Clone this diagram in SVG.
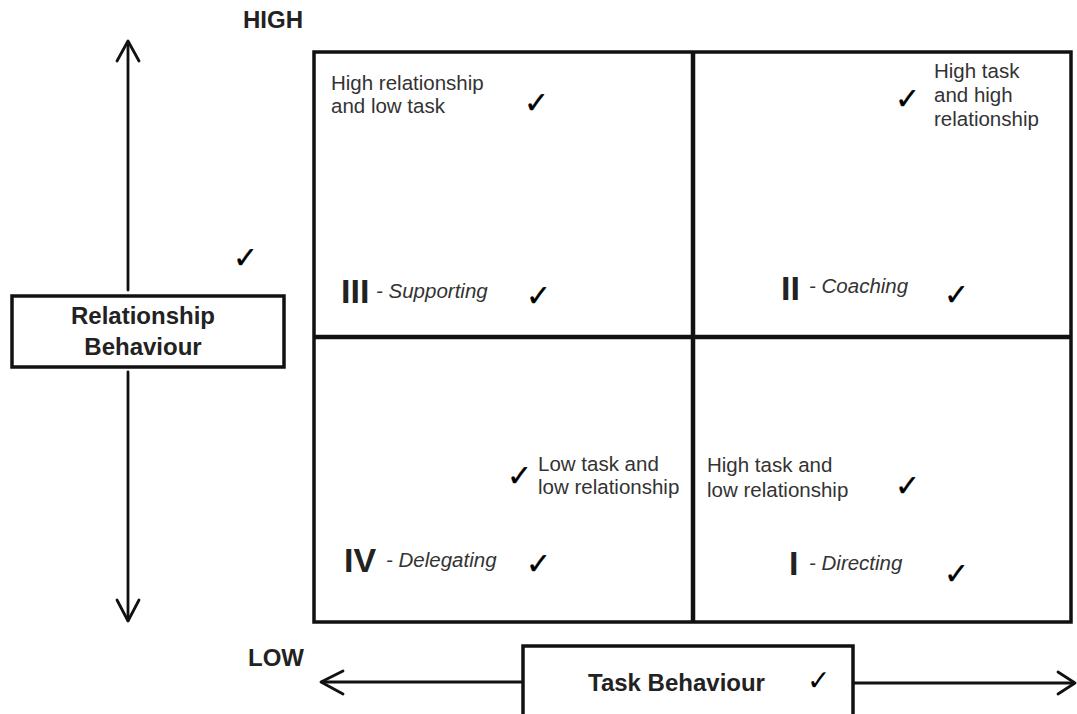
<svg xmlns="http://www.w3.org/2000/svg" width="1077" height="714" viewBox="0 0 1077 714">
<style>
.bg{fill:#ffffff}
.frame{fill:none;stroke:#111;stroke-width:3.5}
.div{fill:none;stroke:#111;stroke-width:4.5}
.box{fill:#fff;stroke:#111;stroke-width:3.5}
.axis{fill:none;stroke:#111;stroke-width:2.8;stroke-linecap:round;stroke-linejoin:round}
.lbl{font-family:"Liberation Sans",Arial,sans-serif;font-weight:bold;font-size:24px;fill:#222}
.t{font-family:"Liberation Sans",Arial,sans-serif;font-size:20.5px;fill:#333}
.num{font-family:"Liberation Sans",Arial,sans-serif;font-weight:bold;font-size:34px;fill:#222}
.sty{font-family:"Liberation Sans",Arial,sans-serif;font-style:italic;font-size:20.5px;fill:#333}
.ck{font-family:"DejaVu Sans",sans-serif;font-size:30px;fill:#000;stroke:#000;stroke-width:0.35}
.ck2{font-family:"DejaVu Sans",sans-serif;font-size:28px;fill:#000}
</style>
<rect class="bg" x="0" y="0" width="1077" height="714"/>

<g id="connectors">
  <line class="axis" x1="128" y1="42" x2="128" y2="290"/>
  <polyline class="axis" points="117,61 128,41 139,61"/>
  <line class="axis" x1="128" y1="372" x2="128" y2="620"/>
  <polyline class="axis" points="117,600 128,621 139,600"/>
  <line class="axis" x1="322" y1="682" x2="523" y2="682"/>
  <polyline class="axis" points="343,671 321,682 343,694"/>
  <line class="axis" x1="854" y1="683" x2="1074" y2="683"/>
  <polyline class="axis" points="1058,672 1075,683 1058,694"/>
</g>

<g id="grid">
  <rect class="frame" x="314" y="52" width="757" height="570"/>
  <line class="div" x1="693" y1="52" x2="693" y2="622"/>
  <line class="div" x1="314" y1="337" x2="1071" y2="337"/>
</g>

<g id="high-label"><text class="lbl" x="243" y="28">HIGH</text></g>
<g id="low-label"><text class="lbl" x="248" y="666">LOW</text></g>

<g id="relationship-behaviour">
  <rect class="box" x="12" y="296" width="272" height="71"/>
  <text class="lbl" x="143" y="324" text-anchor="middle">Relationship</text>
  <text class="lbl" x="143" y="355" text-anchor="middle">Behaviour</text>
</g>
<g id="rel-check"><text class="ck" x="233" y="268">✓</text></g>

<g id="task-behaviour">
  <rect class="box" x="523" y="646" width="330" height="80"/>
  <text class="lbl" x="588" y="691">Task Behaviour</text>
  <text class="ck2" x="807" y="690">✓</text>
</g>

<g id="q3-supporting">
  <text class="t" x="331" y="90">High relationship</text>
  <text class="t" x="331" y="113">and low task</text>
  <text class="ck" x="524" y="113">✓</text>
  <text class="num" x="341" y="303">III</text>
  <text class="sty" x="376" y="298">- Supporting</text>
  <text class="ck" x="526" y="306">✓</text>
</g>

<g id="q2-coaching">
  <text class="ck" x="895" y="109">✓</text>
  <text class="t" x="934" y="78">High task</text>
  <text class="t" x="934" y="102">and high</text>
  <text class="t" x="934" y="126">relationship</text>
  <text class="num" x="781" y="300">II</text>
  <text class="sty" x="809" y="293">- Coaching</text>
  <text class="ck" x="944" y="305">✓</text>
</g>

<g id="q4-delegating">
  <text class="ck" x="507" y="486">✓</text>
  <text class="t" x="538" y="471">Low task and</text>
  <text class="t" x="538" y="494">low relationship</text>
  <text class="num" x="344" y="572">IV</text>
  <text class="sty" x="386" y="567">- Delegating</text>
  <text class="ck" x="526" y="574">✓</text>
</g>

<g id="q1-directing">
  <text class="t" x="707" y="472">High task and</text>
  <text class="t" x="707" y="497">low relationship</text>
  <text class="ck" x="895" y="496">✓</text>
  <text class="num" x="789" y="575">I</text>
  <text class="sty" x="809" y="570">- Directing</text>
  <text class="ck" x="944" y="584">✓</text>
</g>
</svg>
